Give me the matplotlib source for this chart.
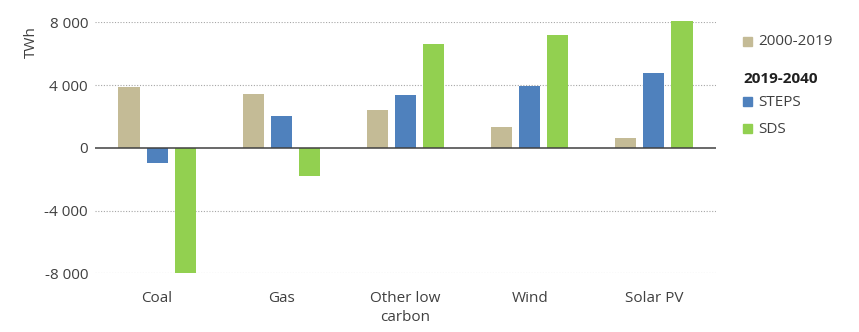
import numpy as np
import matplotlib.pyplot as plt

categories = ["Coal", "Gas", "Other low\ncarbon", "Wind", "Solar PV"]
hist_2000_2019 = [3900, 3450, 2400, 1300, 600]
steps_2019_2040 = [-950, 2000, 3360, 3950, 4740]
sds_2019_2040 = [-7950, -1800, 6630, 7180, 8050]

ticks = [-8000, -4000, 0, 4000, 8000]
tick_labels = ["-8 000", "-4 000", "0", "4 000", "8 000"]

c_tan = "#C4BB96"
c_blue = "#4F81BD"
c_green = "#92D050"
txt = "#404040"

plt.rcParams['font.family'] = ['Open Sans', 'DejaVu Sans']

fig = plt.figure(figsize=(8.59, 3.32), dpi=100)
ax = fig.add_axes([0.1106, 0.1768, 0.7229, 0.7561])

x = np.arange(len(categories))
w = 0.17
off = 0.226
ax.bar(x - off, hist_2000_2019, w, color=c_tan, clip_on=False, zorder=2)
ax.bar(x, steps_2019_2040, w, color=c_blue, clip_on=False, zorder=2)
ax.bar(x + off, sds_2019_2040, w, color=c_green, clip_on=False, zorder=2)

ax.set_xlim(-0.5, len(categories) - 0.5)
ax.set_ylim(-8000, 8000)
ax.set_yticks(ticks)
ax.set_yticklabels(tick_labels)
ax.set_xticks(x)
ax.set_xticklabels(categories, linespacing=1.3)
for t in ticks:
    if t != 0:
        ax.axhline(t, color="#A6A6A6", lw=0.8, ls=(0, (1, 1.5)), zorder=1)
ax.axhline(0, color="#404040", lw=1.1, zorder=3)
for s in ax.spines.values():
    s.set_visible(False)
ax.tick_params(length=0, labelsize=11, colors=txt)
ax.tick_params(axis='y', pad=5)
ax.tick_params(axis='x', pad=13)
ax.set_ylabel("TWh", fontsize=11, color=txt)
ax.yaxis.set_label_coords(-0.09, 0.92)

# legend
leg_x = 0.865
fig.patches.append(plt.Rectangle((leg_x, 0.862), 0.0105, 0.027, transform=fig.transFigure, color=c_tan))
fig.text(leg_x + 0.0175, 0.874, "2000-2019", fontsize=11, color=txt, va="center")
fig.text(leg_x, 0.762, "2019-2040", fontsize=11, color="#202020", va="center", fontweight="bold")
fig.patches.append(plt.Rectangle((leg_x, 0.680), 0.0105, 0.027, transform=fig.transFigure, color=c_blue))
fig.text(leg_x + 0.0175, 0.692, "STEPS", fontsize=11, color=txt, va="center")
fig.patches.append(plt.Rectangle((leg_x, 0.598), 0.0105, 0.027, transform=fig.transFigure, color=c_green))
fig.text(leg_x + 0.0175, 0.610, "SDS", fontsize=11, color=txt, va="center")

fig.savefig("out.png", dpi=100)
